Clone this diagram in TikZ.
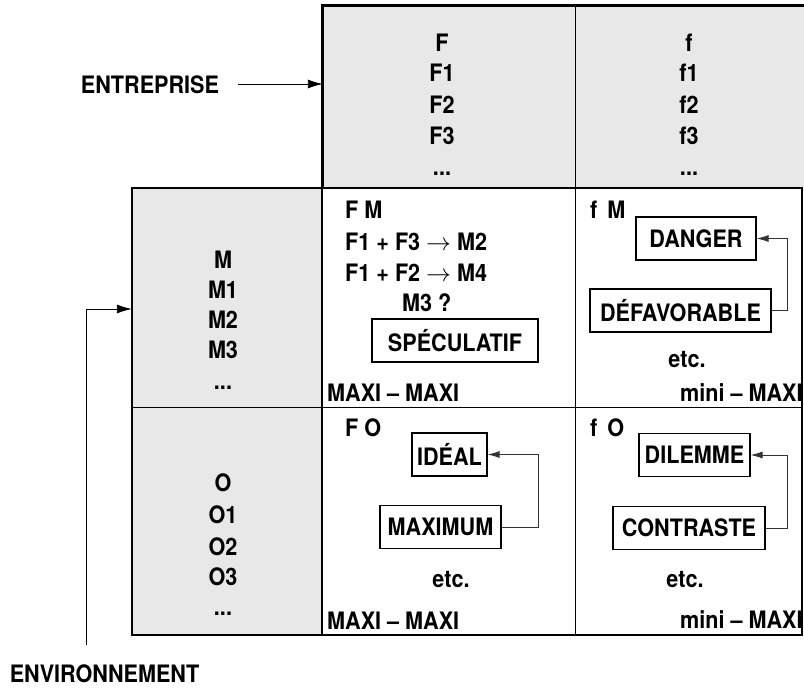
\documentclass[tikz,border=0pt]{standalone}
\usepackage{fontspec}
\setmainfont{TeX Gyre Heros}[FakeStretch=0.9]
\usetikzlibrary{arrows.meta}

\begin{document}
\begin{tikzpicture}[
	x=1pt, y=-1pt,
	every node/.style={ font=\bfseries\fontsize{24}{28}\selectfont, inner sep=0pt },
	item/.style={ anchor=base },
	itemw/.style={ anchor=base west },
	zone/.style={ fill=black!9, draw=none, inner sep=0pt },
	verdict/.style={ draw, line width=1.2pt, inner xsep=4pt, minimum height=43pt },
	fleche/.style={ line width=0.9pt, -{Latex[length=15pt,width=9pt]} },
	lien/.style={ line width=0.8pt, black!80, -{Latex[length=12pt,width=7pt]} },
	cadre/.style={ line width=2.8pt },
	trait/.style={ line width=0.9pt }
]
\useasboundingbox (0,0) rectangle (804,688);

% shaded zones
\node at (563.5,97) (haut) [zone, minimum width=481pt, minimum height=182pt] {};
\node at (227,411.5) (gauche) [zone, minimum width=190pt, minimum height=447pt] {};
\draw[cadre] (haut.north east) -- (haut.north west) -- (haut.south west);
\draw[trait] (575,6) -- (575,188);
\draw[line width=2pt] (gauche.north east) -- (gauche.north west) -- (gauche.south west) -- (gauche.south east);
\draw[trait] (132,407) -- (322,407);

% grid dividers
\draw[trait] (575,188) -- (575,635);
\draw[trait] (322,407) -- (802,407);

% enterprise column heads
\node at (442,51) (F) [item] {F};
\node at (442,81) (F1) [item] {F1};
\node at (442,113) (F2) [item] {F2};
\node at (442,144) (F3) [item] {F3};
\node at (442,175) (Fx) [item] {...};
\node at (689,51) (f) [item] {f};
\node at (689,81) (f1) [item] {f1};
\node at (689,113) (f2) [item] {f2};
\node at (689,144) (f3) [item] {f3};
\node at (689,175) (fx) [item] {...};

% environment row heads
\node at (223,268) (M) [item] {M};
\node at (223,298) (M1) [item] {M1};
\node at (223,328) (M2) [item] {M2};
\node at (223,358) (M3) [item] {M3};
\node at (223,389) (Mx) [item] {...};
\node at (223,491) (O) [item] {O};
\node at (223,523) (O1) [item] {O1};
\node at (223,555) (O2) [item] {O2};
\node at (223,585) (O3) [item] {O3};
\node at (223,615) (Ox) [item] {...};

% cell F M
\node at (345,218) (FM) [itemw] {F M};
\node at (345,250) (FMa) [itemw] {F1 + F3 $\rightarrow$ M2};
\node at (345,281) (FMb) [itemw] {F1 + F2 $\rightarrow$ M4};
\node at (402,311) (FMc) [itemw] {M3 ?};
\node at (455,340.5) (speculatif) [verdict, minimum width=166pt] {SPÉCULATIF};
\node at (327,401) (FMm) [itemw] {MAXI -- MAXI};

% cell f M
\node at (590,218) (fM) [itemw] {f\, M};
\node at (696,238.5) (danger) [verdict, minimum width=120pt] {DANGER};
\node at (680.5,310.5) (defavorable) [verdict, minimum width=181pt] {DÉFAVORABLE};
\node at (687,367) (fMe) [item] {etc.};
\node at (680,401) (fMm) [itemw] {mini -- MAXI};
\draw[lien] (defavorable.east) -- ++(16,0) |- (danger.east);

% cell F O
\node at (345,436) (FO) [itemw] {F O};
\node at (449.5,454.5) (ideal) [verdict, minimum width=75pt] {IDÉAL};
\node at (440.5,527) (maximum) [verdict, minimum width=121pt] {MAXIMUM};
\node at (451,587) (FOe) [item] {etc.};
\node at (327,629) (FOm) [itemw] {MAXI -- MAXI};
\draw[lien] (maximum.east) -- ++(37,0) |- (ideal.east);

% cell f O
\node at (590,436) (fO) [itemw] {f\, O};
\node at (694.5,455) (dilemme) [verdict, minimum width=111pt] {DILEMME};
\node at (689,528) (contraste) [verdict, minimum width=152pt] {CONTRASTE};
\node at (685,587) (fOe) [item] {etc.};
\node at (680,628) (fOm) [itemw] {mini -- MAXI};
\draw[lien] (contraste.east) -- ++(22,0) |- (dilemme.east);

% grid frame
\draw[cadre] (322,188) rectangle (802,635);

% outside labels
\node at (150,85) (entreprise) {ENTREPRISE};
\coordinate (entA) at (238,84);
\draw[fleche] (entA) -- (haut.west |- entA);
\node at (104.5,674) (environnement) {ENVIRONNEMENT};
\coordinate (envA) at (86,645);
\coordinate (envB) at (86,309);
\draw[fleche] (envA) -- (envB) -- (gauche.west |- envB);

\end{tikzpicture}
\end{document}
